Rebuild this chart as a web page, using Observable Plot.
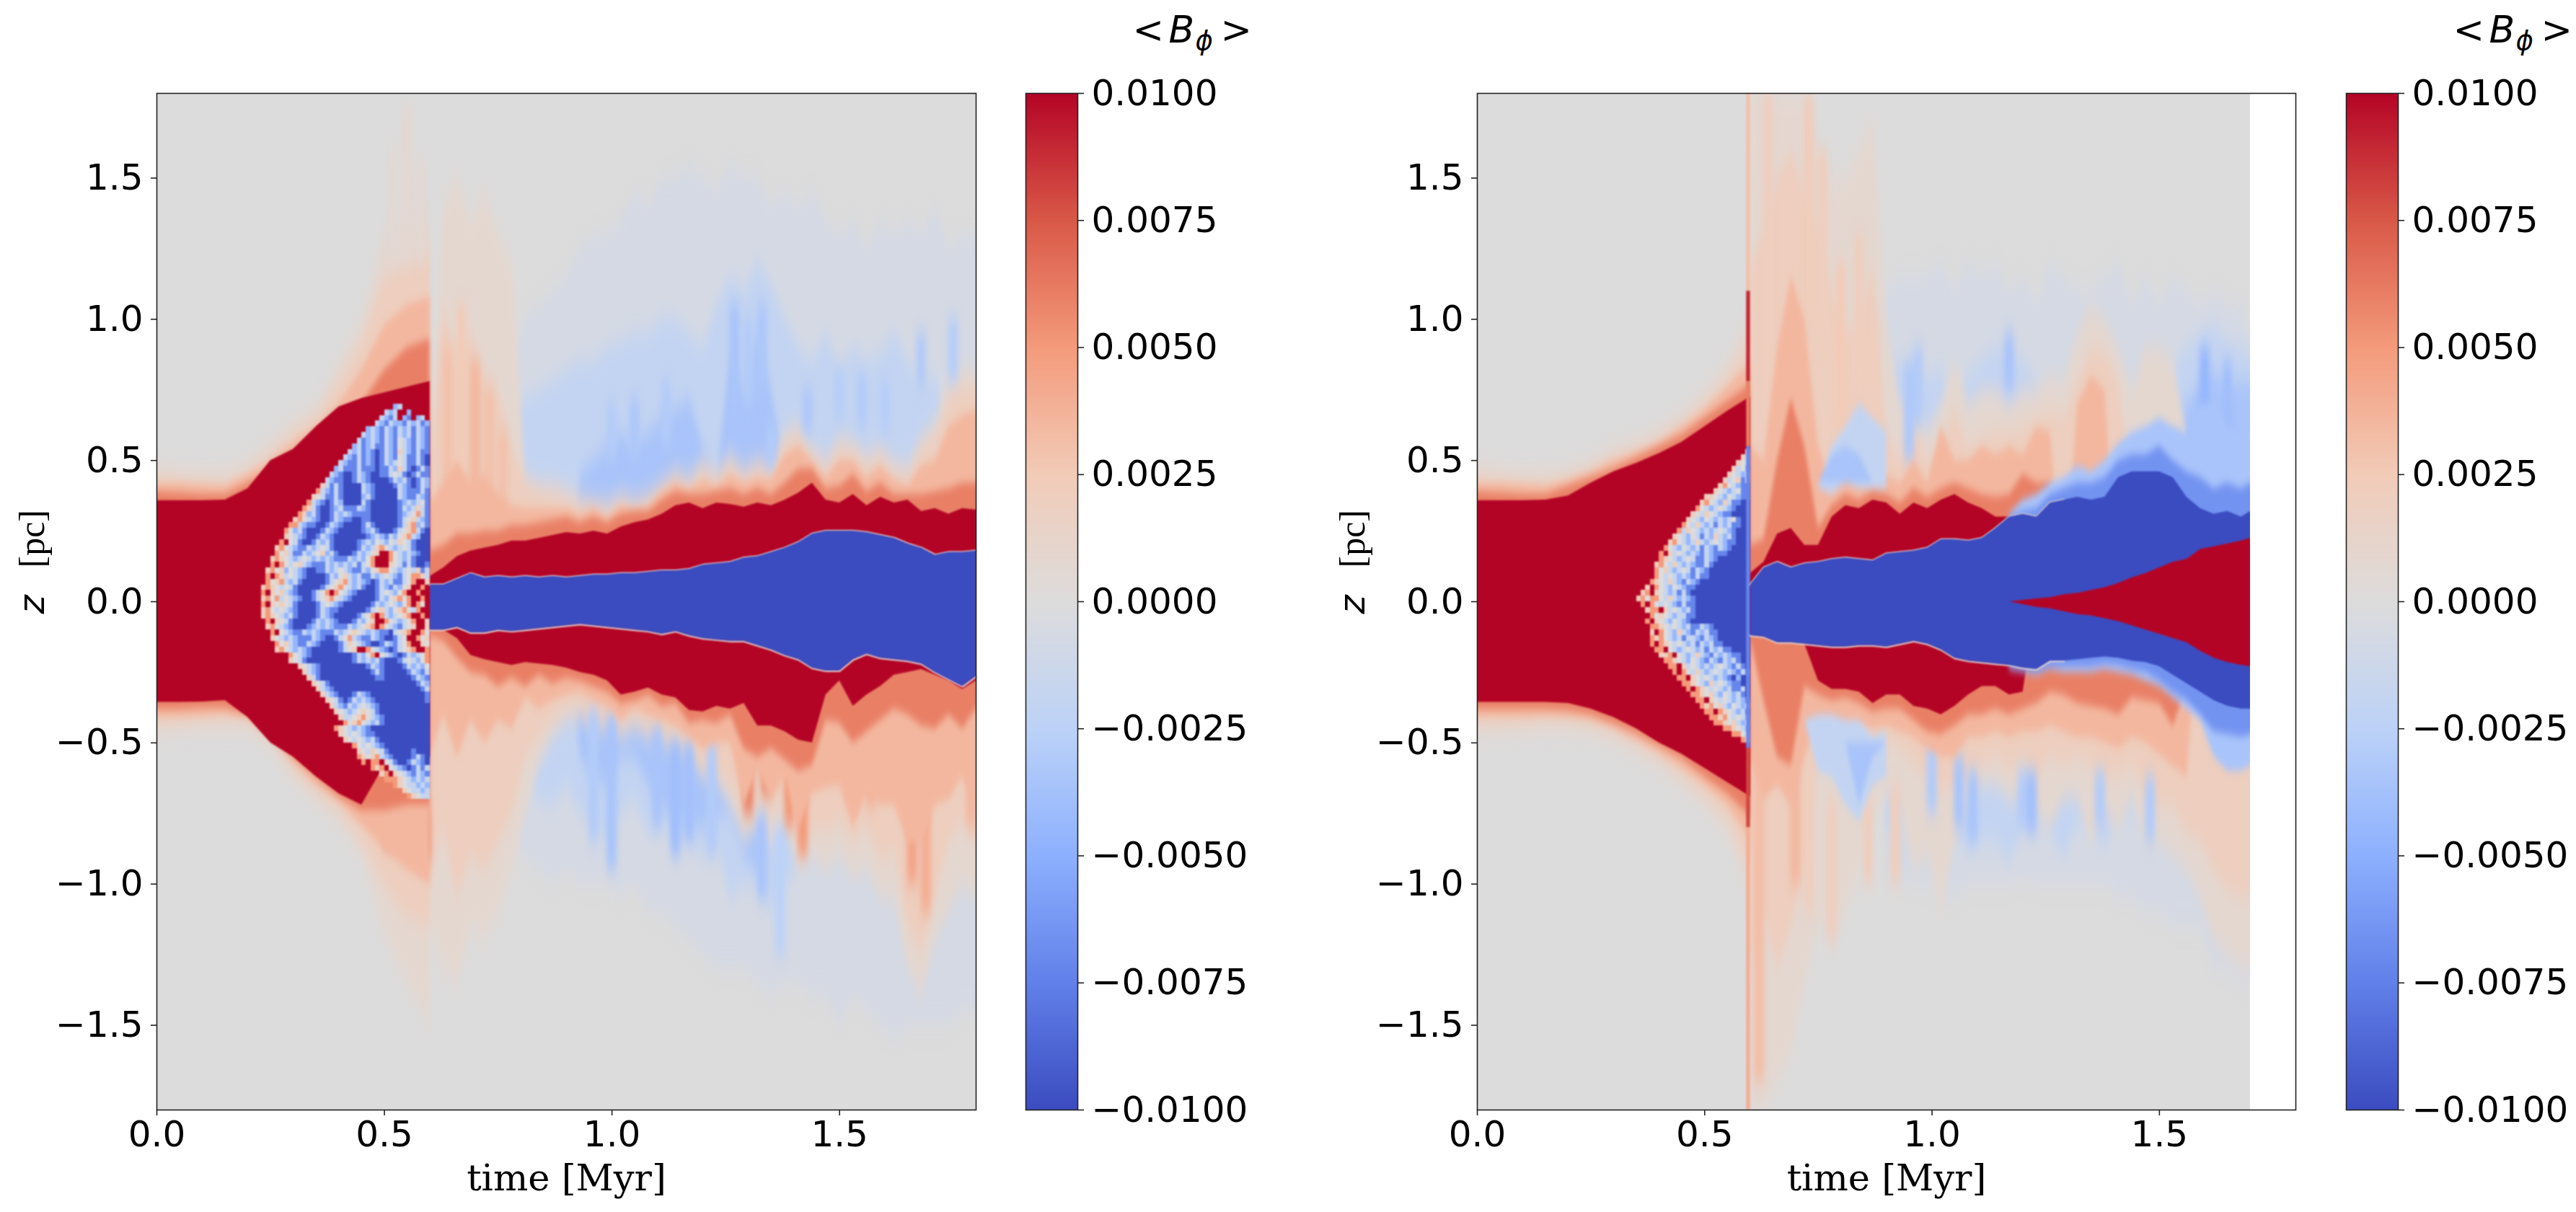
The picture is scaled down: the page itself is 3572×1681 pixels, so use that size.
<!DOCTYPE html>
<html><head><meta charset="utf-8">
<script src="https://cdn.jsdelivr.net/npm/d3@7"></script>
<script src="https://cdn.jsdelivr.net/npm/@observablehq/plot@0.6"></script>
<style>
html,body{margin:0;padding:0;background:#fff}
#root{position:relative;width:3572px;height:1681px;overflow:hidden;background:#fff}
#root svg{position:absolute;top:0;background:transparent}
.soft{filter:url(#vb1)}
.mid{filter:url(#vb2)}
.streak{filter:url(#vb3)}
.edge{filter:blur(.8px)}
.chaos{filter:blur(1.1px)}
</style></head><body><div id="root">
<svg width="0" height="0"><defs>
<filter id="vb1" x="-5%" y="-20%" width="110%" height="140%" color-interpolation-filters="sRGB"><feGaussianBlur stdDeviation="3 15"/></filter>
<filter id="vb2" x="-5%" y="-20%" width="110%" height="140%" color-interpolation-filters="sRGB"><feGaussianBlur stdDeviation="2.5 6"/></filter>
<filter id="vb3" x="-5%" y="-20%" width="110%" height="140%" color-interpolation-filters="sRGB"><feGaussianBlur stdDeviation="3.5 13"/></filter>
</defs></svg></div>
<script>
// ---- colour scale (coolwarm) ----
const cStops=[-.01,-.0075,-.005,-.0025,0,.0025,.005,.0075,.01];
const cColors=["#3b4cc0","#6180e9","#8db0fe","#bcd2f7","#dddcdc","#f2cbb7","#f49a7b","#d95847","#b40426"];
const colorTicks=[-.01,-.0075,-.005,-.0025,0,.0025,.005,.0075,.01];
const timeTicks=[0,.5,1,1.5];
const zTicks=[-1.5,-1,-.5,0,.5,1,1.5];
// ---- time columns ----
const preT=[0,.05,.1,.15,.2,.25,.3,.35,.4,.45,.5,.55,.6];
const postL=[.6005,.63,.66,.69,.72,.75,.78,.81,.84,.87,.9,.93,.96,.99,1.02,1.05,1.08,1.11,1.14,1.17,1.2,1.23,1.26,1.29,1.32,1.35,1.38,1.41,1.44,1.47,1.5,1.53,1.56,1.59,1.62,1.65,1.68,1.71,1.74,1.77,1.8];
const postR=[.6005,.63,.66,.69,.72,.75,.78,.81,.84,.87,.9,.93,.96,.99,1.02,1.05,1.08,1.11,1.14,1.17,1.2,1.23,1.26,1.29,1.32,1.35,1.38,1.41,1.44,1.47,1.5,1.53,1.56,1.59,1.62,1.65,1.68,1.7];
// ---- levels of B_phi ----
const vR1=.0008,vR2=.002,vR3=.0035,vR4=.006,vR5=.01,vB1=-.0007,vB2=-.002,vB3=-.0035,vG1=-.0065,vC=-.01;

// ---- LEFT panel, |z| reached by each level above (U) and below (D) the midplane ----
const LU_R1=[.467,.461,.455,.455,.49,.558,.638,.683,.843,1,1.3,1.4,1.35,
 .55,1.4,1.5,1.35,1.45,1.3,1.2,.45,.42,.42,.4,.37,.36,.35,.38,.36,.38,.42,.46,.44,.5,.46,.52,.47,.5,.49,.6,.63,.55,.5,.58,.57,.52,.55,.5,.48,.58,.64,.78,.82,.82];
const LU_R2=[.45,.44,.43,.43,.47,.53,.6,.66,.78,.92,1.15,1.2,1.25,
 .45,1.05,.85,.95,.8,.75,.55,.43,.4,.39,.37,.35,.35,.33,.36,.35,.37,.41,.45,.42,.47,.44,.49,.45,.48,.47,.57,.6,.52,.48,.55,.54,.49,.52,.47,.45,.55,.58,.72,.76,.76];
const LU_R3=[.42,.42,.415,.41,.45,.5,.565,.62,.7,.82,.98,1.05,1.08,
 .35,.42,.5,.42,.45,.38,.34,.33,.33,.33,.33,.31,.33,.3,.34,.33,.34,.39,.42,.4,.43,.41,.45,.42,.44,.43,.52,.55,.5,.44,.5,.5,.44,.48,.43,.41,.48,.5,.62,.66,.68];
const LU_R4=[.39,.385,.38,.38,.42,.46,.52,.56,.62,.7,.82,.9,.93,
 .18,.2,.24,.24,.25,.25,.27,.27,.28,.29,.3,.28,.3,.28,.31,.32,.32,.36,.39,.38,.38,.39,.4,.38,.4,.38,.42,.47,.47,.4,.41,.45,.39,.42,.38,.38,.38,.39,.4,.42,.42];
const LU_R5=[.358,.358,.358,.36,.4,.5,.54,.62,.69,.72,.74,.76,.78,
 .09,.12,.16,.18,.19,.2,.215,.215,.225,.235,.245,.24,.25,.24,.265,.28,.29,.31,.34,.35,.33,.35,.345,.335,.35,.34,.36,.385,.42,.36,.35,.38,.34,.37,.35,.36,.32,.33,.31,.33,.325];
const LU_C=[.06,.06,.08,.1,.085,.09,.085,.09,.085,.09,.085,.09,.095,.095,.1,.1,.105,.11,.11,.115,.13,.135,.14,.155,.16,.175,.19,.21,.24,.25,.25,.25,.245,.235,.225,.205,.19,.165,.175,.175,.18];
const LU_B1=[.85,1,1.05,1.1,1.15,1.25,1.3,1.3,1.35,1.45,1.4,1.5,1.5,1.55,1.5,1.45,1.55,1.5,1.5,1.4,1.45,1.4,1.45,1.35,1.3,1.35,1.25,1.35,1.3,1.35,1.3,1.4,1.25,1.3,1.3];
const LU_B2=[.68,.72,.75,.78,.82,.85,.85,.9,.92,.95,.95,1,1,.95,.9,1.05,1.15,1.1,1.2,1.12,1,.9,.85,.95,.82,.9,.85,.88,.95,.85,.75,.8,.6,.6,.6];
const LU_B3=[.45,.5,.55,.6,.55,.6,.65,.68,.72,.55,.45,.85,.75,.95,.75,.45,0,0,0,0,0,0,0,0,0,0,0,0,0,0];

const LD_R1=[.46,.45,.445,.44,.445,.5,.63,.7,.78,.9,1.18,1.35,1.5,
 1.15,1.3,1.35,1.15,1.2,1.1,.95,.75,.58,.48,.42,.41,.45,.45,.48,.45,.48,.5,.52,.56,.62,.65,.72,.85,.8,.85,.8,.95,.9,.95,.9,.98,.95,1.05,1.05,1.3,1.4,1.2,1.1,1,1.05];
const LD_R2=[.44,.435,.43,.425,.43,.49,.6,.68,.74,.85,1,1.12,1.15,
 1,.8,1.05,.9,.95,.85,.75,.55,.48,.42,.39,.38,.42,.42,.45,.42,.45,.47,.48,.52,.58,.6,.65,.75,.72,.75,.7,.85,.8,.82,.78,.85,.8,.92,.88,1.15,1.25,1.05,.85,.78,.85];
const LD_R3=[.41,.41,.405,.4,.415,.48,.57,.65,.71,.79,.88,.95,1,
 .55,.4,.55,.42,.5,.42,.45,.34,.38,.35,.33,.32,.35,.37,.42,.38,.4,.42,.44,.48,.52,.5,.5,.72,.6,.7,.62,.8,.68,.66,.65,.8,.68,.72,.72,.85,.85,.72,.7,.62,.75];
const LD_R4=[.38,.38,.375,.375,.4,.465,.55,.62,.69,.74,.74,.72,.72,
 .12,.14,.2,.25,.26,.3,.27,.3,.26,.29,.27,.28,.3,.32,.36,.35,.33,.37,.36,.43,.42,.43,.4,.52,.55,.52,.56,.6,.58,.42,.43,.5,.46,.42,.38,.4,.44,.45,.4,.45,.38];
const LD_R5=[.356,.356,.355,.35,.41,.5,.55,.62,.68,.72,.58,.58,.55,
 .1,.1,.13,.19,.205,.215,.225,.215,.22,.225,.235,.25,.26,.28,.33,.32,.305,.33,.34,.385,.39,.37,.38,.36,.44,.44,.46,.49,.5,.33,.28,.37,.33,.3,.26,.25,.24,.26,.28,.31,.28];
const LD_C=[.1,.1,.09,.11,.11,.1,.105,.1,.095,.09,.085,.08,.085,.09,.095,.1,.105,.115,.105,.12,.13,.135,.14,.14,.155,.17,.19,.205,.235,.245,.245,.205,.185,.2,.205,.21,.22,.25,.275,.3,.265];
const LD_B1=[.85,.9,.95,1,.95,1,1,1,1.05,1,1.1,1.1,1.15,1.2,1.25,1.3,1.3,1.3,1.35,1.4,1.35,1.35,1.4,1.4,1.5,1.4,1.45,1.5,1.55,1.5,1.5,1.5,1.5,1.45,1.45];
const LD_B2=[.55,.65,.7,.72,.65,.75,.78,.85,.75,.7,.82,.8,.85,.85,.9,.85,1.05,1,1,1.1,1,.95,.9,0,0,0,0,0,0,0,0,0,0,0,0];
const LD_B3=[.55,.62,.65,.55,.55,.65,.72,.78,.78,.8,.75,.75,.9,.95,.7,0,0,0,0,0,0,0,0,0,0,0,0,0,0,0];

// LEFT streaks: centre time, z range, value
const LS_T=[.64,.67,.7,.73,.76,.52,.55,.58,.51,.55,.59,1.3,1.34,1.39,1.42,1.53,1.57,1.62,1.66,1.69,1.74,1.79,.96,1,1.1,1.14,1.17,1.22,1.33,1.37,1.27,1.3,1.33,1,1.05,1.12,1.35,1.43,1.5,1.55,1.6,1.68,1.75];
const LS_A=[.3,.25,.3,.3,.28,1.2,1.2,1.2,-.85,-.82,-.92,-.75,-.68,-.8,-.9,-.7,-.72,-.6,-1,-1.1,-.6,-.8,-.85,-.95,-.8,-.9,-.85,-.9,-1.05,-1.25,.65,.7,.75,.5,.5,.55,.48,.6,.65,.62,.6,.75,.78];
const LS_B=[.9,1.05,.85,.75,.6,1.6,1.75,1.55,-.68,-.68,-.72,-.36,-.4,-.45,-.45,-.35,-.4,-.3,-.3,-.35,-.3,-.35,-.38,-.4,-.45,-.5,-.5,-.5,-.75,-.8,1.05,1,1.05,.7,.72,.78,.62,.75,.82,.8,.78,.95,1];
const LS_V=[.003,.0025,.0035,.003,.003,.0006,.0007,.0007,.008,.0065,.006,.006,.006,.005,.005,.004,.004,.005,.0045,.004,.004,.0035,-.003,-.0035,-.0035,-.004,-.0038,-.003,-.0035,-.0025,-.0035,-.003,-.0033,-.003,-.0033,-.003,-.003,-.0032,-.0028,-.003,-.0028,-.003,-.0028];

// ---- LEFT chaotic zone: t from .22 by .01, z from .69 by -.02 ----
const L_chaos=[
"..............................lw......",
"............................wlw..l....",
"...........................wlbw.lb.lw.",
"..........................wlbwllbwlwbl",
"........................lwlbwlbwlwbwlb",
".......................wlwlbwlbwlwbwlb",
"......................wblwlbwlbgwlbwlb",
".....................lwblwbbwlbgwlbwlb",
"....................wlwblbBbwlbpwlbwbb",
"...................wlbwblbBbwlbgwbbwbB",
"..................wlbbwblbBbwlwgwbbwbB",
".................lwbbbwbbbBbbwlpwbBbwbB",
"................wlbBBbwlbBBbbwgwbBbwbb",
"...............wlbbBBbwlbBBBBbwlwbBbwl",
"..............pwbwbBBBBwlbBBBBbwlbBbwl",
".............owlbwbBBBBwlbBBBBBwlbbbwb",
"............pgwbbwbBBBBlwbBBBBBwlbbwlb",
"...........owlbBbwlBBBBwbBBBBBBblwlwgb",
"..........opwbBBblwbbbwlbBBBBBBbwlwpwb",
".........oplwbBBbwlwlbbbbBBBBBBblwgowb",
"........pogwlbBBbwlbbBBbbBBBBBBbwgpwlb",
".......oowlbbBBbwlbBBBBbwbBBBBBbwpolwb",
"......oglwbBBBbwlbBBBBBblwbBBBbwgpowbB",
"......pgwlbBBbwlbBBBBBBBblwlbwlgpowlBB",
".....oRgwbBBbwlwbBBBBBblwlgwlgwpgwbBBB",
"....pogwlbbwlwgwbBBBBBbwlwpogwlwgwbBBB",
"....ogpwbbwlwgplwbBBBbwlwgpRRogwlwlbBB",
"...popgwlwgwlwlwlbbbwlwlgoRRRogwlwbBBB",
"...oRogwgpwlbbbwlwlwlwbwgoRRRpgwbwbBBb",
"..pogplgwlbBBbbwlwgwlbbwlgpoogwlwgwpbw",
"..oRopwgwlbBBBBbwlgpwlwbbwlwgwlbwgoopw",
"..ogpowlwbBBBBBbwgpowlwlbBbwlwbbwgoRRp",
".popgwgwbBBBBBbwgpogwlwbBBbwlbwlgpRRoR",
".oRpgpwlbBBBbwgoRogwlbBBBBbwgwlgoRRoRR",
".pogowgwlbBBbwgpogwlbBBBBBbwlgpogoRRoR",
".oRpgpgwbBBBBbwgwlbBBBBBBbwlwgwlgoRogR",
".pogwgwlbBBBBbwlbbBBBBBBbwgpwlgpogwoRR",
".popgwlwbBBBBbwlbBBBBBbwgoRowlwgpoRRoR",
"..oRpgwbBBBBbwlwlbBBBbwlgpRRogwlwgoRRp",
"..pogwlbBBBblwlwlbbbwlwgpoRogwlbwgpRRp",
"...oRgwlbbwlwlbbbwlwgpgwlwlbbBwgpoRRog",
"...pgwlwlbbbwlbBBbwgowlbbwlbBBbwgRRogp",
"....ogpwlbbwlbBBBBbwpgwlbBBbwlbwgoRRpg",
"....pogwlwlbBBBBBBbwgpRRogwlbBbwgpoRRo",
".......ogwlbBBBBBBBBBbwlgoRgwlbBbwlwgoRR",
".......pgwbBBBBBBBBBBbwlwlwbBBBbwgwlgoRR",
".........pgwlbBBBBBBBBBBbwlbBBBBbwlwlgpoR",
"..........pwlbBBBBBBBBBBBbwbBBBBBbwlbwgoR",
"...........pwbBBBBBBBBBBBBbbBBBBBBbwlbwpo",
"............pgwbBBBBBBBBBBBBBBBBBBBbwlbwg",
".............pwlbBBBBBBBBBBBBBBBBBBBbwlbw",
"..............pwlbBBBbwlbBBBBBBBBBBBBbwbw",
"...............pgwbBbwlwlbBBBBBBBBBBBbwlb",
"................pwlbwlwgwlbBBBBBBBBBBBbwb",
".................pgwlwgpgwbBBBBBBBBBBBBBw",
"..................pwwgpogwlbBBBBBBBBBBBBb",
"...................ogpogwlwbBBBBBBBBBBBBB",
".................opgwlwlbBBBBBBBBBBBBB",
"..................pgwgwlbbBBBBBBBBBBBB",
"...................pgwgwlwbBBBBBBBBBBB",
".....................ogwgwlbBBBBBBBBBB",
"......................pgwpgwbBBBBBbBBB",
"......................opgpowlbBBBBbwbB",
".......................o.ooRgwbBBbwlbB",
".........................opoRgwlbBbwbw",
"...........................poRpgwlbwlb",
"............................ooopgwlwlw",
"..............................opgwwlwl",
"................................pgwwlw",
".................................opgww"];

// ---- RIGHT panel ----
const RU_R1=[.467,.46,.455,.455,.46,.49,.535,.56,.6,.66,.74,.84,1.03,
 1.8,1.8,1.8,1.8,1.8,1.6,1.5,1.5,1.6,1.7,1,.7,.75,.6,.7,.85,.7,.75,.75,.7,.75,.75,.8,.78,.95,1.05,1,.9,.75,.9,.9,.85,.6,0,0,0,0,0];
const RU_R2=[.45,.44,.43,.43,.45,.475,.52,.55,.585,.64,.71,.8,.92,
 1.2,1.3,1.5,1.6,1.45,1.3,1.1,.95,1,1.2,.6,.5,.62,.5,.55,.68,.55,.58,.6,.6,.62,.65,.68,.65,.78,.9,.88,.78,.4,0,0,0,0,0,0,0,0,0];
const RU_R3=[.42,.42,.415,.41,.43,.46,.5,.53,.565,.62,.68,.76,.84,
 .55,.5,.9,1.15,1,.55,.42,.44,.46,.5,.45,.42,.5,.42,.62,.5,.5,.55,.52,.55,.52,.62,.6,0,.7,.8,.75,0,0,0,0,0,0,0,0,0,0,0];
const RU_R4=[.39,.385,.38,.38,.41,.44,.47,.51,.55,.59,.65,.71,.77,
 .2,.22,.5,.72,.55,.26,.34,.38,.36,.39,.38,.35,.4,.37,.4,.42,.4,.38,.37,.38,.45,.42,.42,0,0,0,0,0,0,0,0,0,0,0,0,0,0,0];
const RU_R5=[.358,.358,.358,.36,.375,.42,.46,.49,.525,.565,.62,.675,.725,
 .1,.14,.24,.26,.2,.2,.3,.34,.33,.36,.35,.31,.35,.33,.36,.38,.35,.33,.3,.3,0,0,0,0,0,0,0,0,0,0,0,0,0,0,0,0,0,0];
const RU_C=[.06,.12,.14,.12,.135,.14,.15,.155,.15,.145,.17,.175,.18,.19,.22,.22,.215,.225,.26,.3,.31,.3,.35,.36,.37,.36,.37,.44,.46,.46,.46,.44,.37,.33,.31,.32,.3,.32];
const RU_B1=[1.1,1.15,1.15,1.15,1.2,1.1,1.2,1.15,1.2,1.1,1.15,1.05,1.2,1.15,1.1,1.1,1.15,1.2,1.05,1.15,1.05,1.15,1.1,1.05,1.1,1.05,1.05,.95];
const RU_B2=[.85,.85,.75,.8,.82,.72,.8,.85,.9,.88,.85,.78,.68,.7,.72,.7,.62,.62,.68,.75,.78,.82,.9,.95,.98,.92,.9,.88];
const RU_B3=[.6,.62,.68,.72,.7,.78,.82,.75,.78,.78];
const RU_G1=[.3,.32,.33,.38,.4,.42,.42,.44,.5,.52,.52,.55,.5,.46,.44,.4,.42,.4,.42];
const RU_G2=[.31,.36,.38,.42,.44,.48,.46,.5,.56,.6,.62,.65,.62,.6,.7,.7,.62,.6,.6];
const RU_W=[0,.005,.01,.015,.025,.03,.04,.05,.065,.085,.1,.12,.14,.15,.185,.195,.205,.215,.225];

const RD_R1=[.46,.458,.452,.448,.447,.46,.49,.53,.58,.65,.72,.82,1.05,
 1.8,1.8,1.7,1.6,1.35,1.15,1.2,1.1,.95,.75,.7,.72,.95,.9,1.1,.85,.7,.65,.65,.7,.7,.75,.8,.7,.7,.85,.75,.8,.7,.85,.85,.9,.95,1.05,1.2,1.25,1.3,1.3];
const RD_R2=[.44,.44,.435,.43,.43,.44,.47,.51,.56,.62,.69,.77,.94,
 1.3,1.1,1.3,1.15,.95,.55,.52,.5,.5,.52,.5,.52,.58,.62,.68,.65,.6,.58,.55,.6,.55,.62,.55,.58,.55,.58,.62,.62,.58,.68,.72,.72,.82,.85,.95,1.02,1.05,1.05];
const RD_R3=[.41,.41,.41,.405,.41,.42,.45,.49,.535,.59,.65,.72,.84,
 .55,.7,.65,.72,.55,.42,.42,.42,.42,.45,.44,.46,.48,.52,.55,.55,.48,.48,.46,.48,.46,.46,.44,.46,.48,.48,.5,.52,.48,.5,.54,.58,.62,0,0,0,0,0];
const RD_R4=[.38,.38,.38,.38,.385,.4,.43,.465,.51,.555,.62,.68,.76,
 .13,.35,.55,.58,.3,.33,.35,.34,.36,.39,.38,.38,.42,.46,.47,.44,.4,.4,.38,.4,.38,.36,.32,.33,.36,.37,.38,.4,.34,.35,.36,.44,.3,0,0,0,0,0];
const RD_R5=[.356,.356,.356,.356,.36,.38,.41,.45,.5,.54,.59,.64,.69,
 .12,.125,.145,.145,.15,.28,.31,.31,.32,.36,.33,.33,.37,.38,.4,.37,.33,.3,.3,.33,.32,0,0,0,0,0,0,0,0,0,0,0,0,0,0,0,0,0];
const RD_C=[.12,.125,.145,.145,.15,.155,.16,.16,.155,.155,.16,.15,.14,.15,.17,.2,.21,.215,.22,.225,.235,.24,.21,.21,.205,.2,.195,.2,.21,.215,.23,.26,.29,.32,.35,.37,.38,.38];
const RD_B1=[.95,.98,1,1,1.05,1.05,1,1,1,1,.98,1,1,1,1,1,1,1.05,1.05,1.1,1.1,1.15,1.15,1.15,1.3,1.3,1.35,1.35];
const RD_B2=[.8,.78,.72,.72,.78,.82,.88,.85,.85,.92,.8,.78,.82,.9,.78,.82,.85,.78,.75,.72,.82,.85,.6,.6,.62,.62,.62,.6];
const RD_B3=[.58,.58,.58,.56];
const RD_G1=[.23,.24,.25,.23,.23,.23,.23,.22,.225,.24,.25,.28,.32,.35,.4,.46,.47,.48,.47];
const RD_G2=[.24,.25,.26,.24,.25,.25,.25,.24,.25,.26,.28,.3,.34,.38,.42,.55,.6,.6,.58];
const RD_W=[0,.01,.02,.025,.035,.045,.05,.06,.07,.085,.1,.115,.13,.145,.175,.2,.215,.225,.23];

// pale-blue pockets between the red band and the pale red beyond it
const pocketT=[.72,.75,.78,.81,.84,.87,.9];
const RU_P1lo=[.42,.4,.38,.42,.4,.4,.4], RU_P1hi=[.42,.4,.55,.62,.7,.65,.6];
const RD_P1lo=[.42,.4,.4,.42,.42,.48,.46], RD_P1hi=[.42,.6,.62,.72,.78,.65,.62];
const RU_P2lo=[.42,.42,.42,.42,.42,.42,.42], RU_P2hi=[.42,.42,.52,.55,.52,.42,.42];
const RD_P2lo=[.5,.5,.5,.5,.5,.5,.5], RD_P2hi=[.5,.5,.5,.5,.72,.55,.5];

// RIGHT streaks
const RS_T=[.64,.73,.76,.8,.84,.87,.62,.65,.68,.7,.73,.78,.86,.92,1.32,1.39,1.42,1.53,1,1.06,1.09,1.2,1.22,1.37,1.48,.95,.97,1.17,1.6,1.65];
const RS_A=[.25,1,.9,.6,.75,.6,-1.7,-.55,-.5,-1,-1.1,-1.2,-1,-1,-.36,-.38,-.4,-.52,-.75,-.8,-.85,-.8,-.82,-.8,-.85,.5,.62,.75,.55,.55];
const RS_B=[1.8,1.8,1.6,1.2,1.3,1,-.5,-.18,-.2,-.3,-.6,-.7,-.7,-.65,-.27,-.27,-.3,-.42,-.5,-.55,-.6,-.6,-.6,-.6,-.62,.85,.9,.95,.9,.85];
const RS_V=[.002,.0022,.002,.0025,.002,.002,.0032,.007,.0075,.0035,.002,.002,.002,.002,.008,.0095,.008,.006,-.003,-.0035,-.0035,-.003,-.0038,-.003,-.003,-.0032,-.003,-.0035,-.0045,-.004];

// RIGHT chaotic zone
const R_chaos=[
"","","","","","","","",
".....................................p",
"....................................pw",
"...................................pgw",
"..................................pwgl",
".................................pgwlw",
"................................pwgpbw",
"...............................pogwlb",
"..............................pgwlwgb",
"............................ppgwlgwlb",
"...........................pogwlpwbbB",
"..........................ogwlwgwlbBB",
".........................pgwpgwlbbBBB",
"........................pgwlgwlwlwgbBBBB",
".......................ogwpwlwbwlwbbBBBB",
"......................owpgwlwlwgwlbBBBBB",
".....................pgwlgwbwlpwlwbBBBBB",
"....................pogwlwpwlwgwlbbBBBBB",
"...................ogwlgwlwbwlbwlbBBBBBB",
"..................oRpwgwlwlbwlbbbBBBBBBB",
"..................opgwlwgwbbwlbBBBBBBBBB",
".................pogwpwlwlbbwbBBBBBBBBBB",
".................ogpwlwgwbwlbBBBBBBBBBBB",
"................RogwgwlwlbwbbBBBBBBBBBBB",
"................opgwpwlbwlbBBBBBBBBBBBBB",
"...............pRogwlgwlbbBBBBBBBBBBBB",
"..............poRpgwlwbwbBBBBBBBBBBBBB",
".............pogoogwpwlwlbBBBBBBBBBBBB",
"..............oRogwgwlbwbbBBBBBBBBBBBB",
"...............pooRpwgwlwbBBBBBBBBBBBB",
"................ogpgwlwwbbBBBBBBBBBBBB",
"...............oRpgwlgwlbBBBBBBBBBBBBB",
"................oopgwgwlwbbwlbBBBBBBBB",
"................pRogwlpwlbwlwbbBBBBBBB",
"................opogwlwbwwlbwlbBBBBBBB",
"................oRopgwgwlwbwlwbbBBBBBB",
".................ooRgwlwgwlwbwlwbbBBBB",
"..................ppoRgwlwpwlbwlwlbbBB",
"...................oopgwlgwlbwlbwlwbBB",
"....................ooRpwgwlwlwgwlbwbB",
".....................oRogwpwlwgwlwlbwb",
"......................ooRpgwgwlwlbBlBB",
".......................oopgwlpwgwlbbBB",
"........................oRopgwgwlwbbwB",
".........................oopgpwlgwlwbB",
"..........................ooRpgwgwlwlb",
"...........................opogpwlgwlw",
"............................ooRopgwlwb",
".............................oopogwgwl",
"..............................oopgpwlw",
"................................oopgwl",
"..................................oogw",
"....................................op"];
const chaosValue={B:-.01,b:-.0072,l:-.0045,w:-.0018,g:0,p:.002,o:.005,R:.01};
const chaosT0=.22, chaosDT=.01, chaosZ0=.69, chaosDZ=.02, chaosCols=38;

// thin vertical flash just before t = 0.6 in the right run
const spikeZlo=[-.52,.55,.78,1.1,-.8,-1.8], spikeZhi=[.55,.78,1.1,1.8,-.52,-.8], spikeV=[-.0072,.006,.009,.003,.008,.004];
const spikeT=[.592,.6005];
const streakHalf=.011;

// ---- helpers that only assemble rows from the arrays above ----
function rowsOf(T,v,up,dn,k){
  const pad=a=>{const n=T.length-a.length;return n>=0?[...Array(n).fill(0),...a]:a.slice(-n)};
  const U=pad(up),D=pad(dn);
  const rows=T.map((t,i)=>({t,hi:U[i],lo:-D[i],v,k}));
  if(T[0]===0) rows.unshift({...rows[0],t:-.05});
  if(T[T.length-1]>=1.7) rows.push({...rows[rows.length-1],t:T[T.length-1]+.05});
  return rows;
}
function bandRows(T,v,lo,hi,k){return T.map((t,i)=>({t,hi:hi[i],lo:lo[i],v,k}));}
function chaosCells(rows){
  const out=[];
  rows.forEach((r,j)=>{
    if(!r.length)return;
    const s=r.slice(0,chaosCols).padEnd(chaosCols,r[r.length-1]);
    [...s].forEach((c,i)=>{
      if(c in chaosValue)out.push({t1:chaosT0+i*chaosDT,t2:chaosT0+(i+1)*chaosDT,z2:chaosZ0-(j-.5)*chaosDZ,z1:chaosZ0-(j+.5)*chaosDZ,v:chaosValue[c]});
    });
  });
  return out;
}
function streakRows(T,A,B,V){return T.map((t,i)=>({t1:t-streakHalf,t2:t+streakHalf,a:A[i],b:B[i],v:V[i]}));}
const colorOpt={type:"linear",domain:cStops,range:cColors,clamp:true};
const fmt1=d3.format(".1f");
const AX={stroke:"#222",strokeWidth:1.6};
const areaCh={x:"t",y1:"lo",y2:"hi",z:"k",fill:"v",clip:"frame"};

function panel(o){
  return Plot.plot({
    width:o.width,height:1681,marginLeft:o.ml,marginRight:o.mr,marginTop:129,marginBottom:142,
    x:{domain:[0,1.8]},y:{domain:[-1.8,1.8]},color:colorOpt,
    style:{background:"transparent",fontFamily:"DejaVu Sans"},
    marks:[
      Plot.rect([{a:0,b:o.tEnd,v:0}],{x1:"a",x2:"b",y1:-1.8,y2:1.8,fill:"v"}),
      Plot.areaY(o.soft,{...areaCh,className:"soft"}),
      Plot.rect(o.streaks,{x1:"t1",x2:"t2",y1:"a",y2:"b",fill:"v",clip:"frame",className:"streak"}),
      Plot.areaY(o.mid,{...areaCh,className:"mid"}),
      Plot.areaY(o.crisp,{...areaCh,className:"edge"}),
      Plot.rect(o.cells,{x1:"t1",x2:"t2",y1:"z1",y2:"z2",fill:"v",shapeRendering:"crispEdges",className:"chaos"}),
      ...(o.extra||[]),
      Plot.areaY(o.softTop,{...areaCh,className:"mid"}),
      Plot.line(o.halo,{x:"t",y:"z",z:"k",stroke:"#ead9d0",strokeWidth:3,className:"edge"}),
      Plot.areaY(o.core,{...areaCh,className:"edge"}),
      ...(o.tEnd<1.8?[Plot.rect([{a:o.tEnd,b:1.8}],{x1:"a",x2:"b",y1:-1.8,y2:1.8,fill:"white"})]:[]),
      Plot.frame(AX),
      Plot.axisX({ticks:timeTicks,tickFormat:fmt1,tickSize:8,tickPadding:7,fontSize:50,label:null,...AX}),
      Plot.axisY({ticks:zTicks,tickFormat:fmt1,tickSize:8,tickPadding:11,fontSize:50,label:null,...AX}),
      Plot.text(["time [Myr]"],{frameAnchor:"bottom",dy:111,lineAnchor:"bottom",fontFamily:"DejaVu Serif",fontSize:51}),
      Plot.text(["z"],{frameAnchor:"left",dx:-173,dy:17,rotate:-90,textAnchor:"start",lineAnchor:"middle",fontStyle:"italic",fontFamily:"DejaVu Sans",fontSize:50}),
      Plot.text(["[pc]"],{frameAnchor:"left",dx:-173,dy:-47,rotate:-90,textAnchor:"start",lineAnchor:"middle",fontFamily:"Liberation Serif",fontSize:50})
    ]
  });
}
function colorbar(o){
  const n=705,bins=d3.range(n).map(i=>({a:-.01+.02*i/n,b:-.01+.02*(i+1)/n}));
  const fr={frameAnchor:"top-left",dy:-71,lineAnchor:"bottom",textAnchor:"start",fontFamily:"DejaVu Sans"};
  return Plot.plot({
    width:o.width,height:1681,marginLeft:22,marginRight:o.width-94,marginTop:129,marginBottom:142,
    x:{domain:[0,1],axis:null},y:{domain:[-.01,.01]},color:colorOpt,
    style:{background:"transparent",fontFamily:"DejaVu Sans"},
    marks:[
      Plot.rect(bins,{x1:0,x2:1,y1:"a",y2:"b",fill:d=>(d.a+d.b)/2,shapeRendering:"crispEdges"}),
      Plot.frame(AX),
      Plot.axisY({anchor:"right",ticks:colorTicks,tickFormat:d3.format(".4f"),tickSize:8,tickPadding:11,fontSize:50,label:null,...AX}),
      Plot.text(["<"],{...fr,dx:148,fontSize:52}),
      Plot.text(["B"],{...fr,dx:198,fontSize:52,fontStyle:"italic"}),
      Plot.text(["\u03d5"],{...fr,dx:235,dy:-61,fontSize:37,fontStyle:"italic"}),
      Plot.text([">"],{...fr,dx:270,fontSize:52})
    ]
  });
}
const TL=[...preT,...postL], TR=[...preT,...postR];
const leftPanel=panel({width:1400,ml:217,mr:47,tEnd:1.8,
  soft:[...rowsOf(postL,vB1,LU_B1,LD_B1,"b1"),...rowsOf(postL,vB2,LU_B2,LD_B2,"b2"),...rowsOf(postL,vB3,LU_B3,LD_B3,"b3"),
        ...rowsOf(TL,vR1,LU_R1,LD_R1,"r1"),...rowsOf(TL,vR2,LU_R2,LD_R2,"r2")],
  streaks:streakRows(LS_T,LS_A,LS_B,LS_V),
  mid:[...rowsOf(TL,vR3,LU_R3,LD_R3,"r3"),...rowsOf(TL,vR4,LU_R4,LD_R4,"r4")],
  crisp:rowsOf(TL,vR5,LU_R5,LD_R5,"r5"),
  cells:chaosCells(L_chaos),softTop:[],
  halo:[...postL.map((t,i)=>({t,z:LU_C[i],k:"u"})),...postL.map((t,i)=>({t,z:-LD_C[i],k:"d"}))],
  core:rowsOf(postL,vC,LU_C,LD_C,"c")
});
const tailT=postR.slice(-RU_W.length);
const rightPanel=panel({width:1400,ml:248,mr:17,tEnd:1.7,
  soft:[...rowsOf(postR,vB1,RU_B1,RD_B1,"b1"),...rowsOf(postR,vB2,RU_B2,RD_B2,"b2"),...rowsOf(postR,vB3,RU_B3,RD_B3,"b3"),
        ...rowsOf(TR,vR1,RU_R1,RD_R1,"r1"),...rowsOf(TR,vR2,RU_R2,RD_R2,"r2")],
  streaks:streakRows(RS_T,RS_A,RS_B,RS_V),
  mid:[...rowsOf(TR,vR3,RU_R3,RD_R3,"r3"),
        ...bandRows(pocketT,vB2,RU_P1lo,RU_P1hi,"p1u"),...bandRows(pocketT,vB2,RD_P1hi.map(v=>-v),RD_P1lo.map(v=>-v),"p1d"),
        ...bandRows(pocketT,vB3,RU_P2lo,RU_P2hi,"p2u"),...bandRows(pocketT,vB3,RD_P2hi.map(v=>-v),RD_P2lo.map(v=>-v),"p2d"),
        ...rowsOf(TR,vR4,RU_R4,RD_R4,"r4")],
  crisp:rowsOf(TR,vR5,RU_R5,RD_R5,"r5"),
  cells:chaosCells(R_chaos),
  extra:[Plot.rect(spikeV.map((v,i)=>({v,a:spikeZlo[i],b:spikeZhi[i]})),{x1:spikeT[0],x2:spikeT[1],y1:"a",y2:"b",fill:"v",className:"edge"})],
  softTop:[...rowsOf(tailT,vB3,RU_G2,RD_G2,"g2"),...rowsOf(tailT,vG1,RU_G1,RD_G1,"g1")],
  halo:[...postR.map((t,i)=>({t,z:RU_C[i],k:"u"})).filter(d=>d.t<1.3),...postR.map((t,i)=>({t,z:-RD_C[i],k:"d"})).filter(d=>d.t<1.3),
        ...tailT.map((t,i)=>({t,z:RU_W[i],k:"wu"})),...tailT.map((t,i)=>({t,z:-RD_W[i],k:"wd"}))],
  core:[...rowsOf(postR,vC,RU_C,RD_C,"c"),...rowsOf(tailT,vR5,RU_W,RD_W,"w")]
});
const root=document.getElementById("root");
function place(svg,left){svg.style.left=left+"px";root.appendChild(svg);}
place(leftPanel,0);place(colorbar({width:400}),1400);
place(rightPanel,1800);place(colorbar({width:341}),3231);
</script></body></html>
